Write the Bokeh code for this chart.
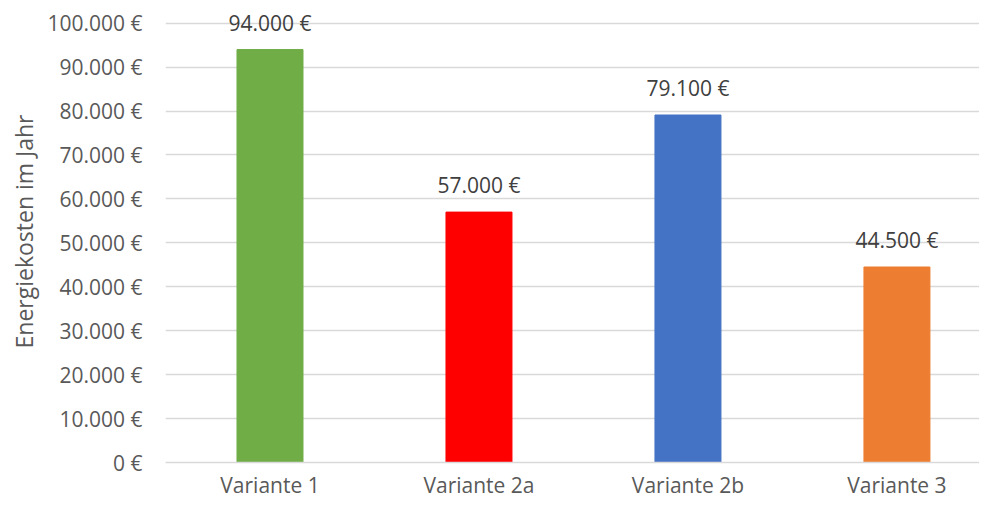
from bokeh.plotting import figure
from bokeh.models import Range1d, FixedTicker, ColumnDataSource
from bokeh.core.properties import value
from bokeh.embed import file_html
from bokeh.resources import INLINE

categories = ["Variante 1", "Variante 2a", "Variante 2b", "Variante 3"]
costs = [94000, 57000, 79100, 44500]
colors = ["#70AD47", "#FF0000", "#4472C4", "#ED7D31"]
y_ticks = list(range(0, 100001, 10000))
y_title = "Energiekosten im Jahr"


def euro(v):
    return f"{v:,.0f}".replace(",", ".") + " €"


xs = list(range(len(categories)))
src = ColumnDataSource(dict(x=xs, y=costs, color=colors,
                            label=[euro(v) for v in costs]))

FONT = "Open Sans"
p = figure(width=979, height=501, output_backend="svg", toolbar_location=None,
           x_range=Range1d(-0.5, 3.395), y_range=Range1d(0, 105167),
           min_border_left=165, min_border_right=0, min_border_top=0,
           min_border_bottom=10)
p.outline_line_color = None
p.background_fill_color = "white"
p.border_fill_color = "white"

p.vbar(x="x", top="y", width=66 / 209, color="color", source=src)
p.text(x="x", y="y", text="label", source=src, text_align="center",
       text_baseline="middle", y_offset=-27, text_font=value(FONT),
       text_font_size="21px", text_color="#404040")

p.xgrid.visible = False
p.ygrid.ticker = FixedTicker(ticks=y_ticks)
p.ygrid.grid_line_color = "#d9d9d9"
p.ygrid.grid_line_width = 1.5

p.yaxis.ticker = FixedTicker(ticks=y_ticks)
p.yaxis.major_label_overrides = {t: euro(t) for t in y_ticks}
p.yaxis.axis_line_color = None
p.yaxis.major_tick_line_color = None
p.yaxis.minor_tick_line_color = None
p.yaxis.major_tick_out = 0
p.yaxis.major_tick_in = 0
p.yaxis.major_label_standoff = 23
p.yaxis.major_label_text_font = FONT
p.yaxis.major_label_text_font_size = "21px"
p.yaxis.major_label_text_color = "#595959"
p.yaxis.axis_label = y_title
p.yaxis.axis_label_text_font = FONT
p.yaxis.axis_label_text_font_size = "23px"
p.yaxis.axis_label_text_font_style = "normal"
p.yaxis.axis_label_text_color = "#595959"
p.yaxis.axis_label_standoff = 4

p.xaxis.ticker = FixedTicker(ticks=xs)
p.xaxis.major_label_overrides = {i: c for i, c in zip(xs, categories)}
p.xaxis.axis_line_color = "#d9d9d9"
p.xaxis.axis_line_width = 1.5
p.xaxis.major_tick_line_color = None
p.xaxis.minor_tick_line_color = None
p.xaxis.major_tick_out = 0
p.xaxis.major_tick_in = 0
p.xaxis.major_label_standoff = 8
p.xaxis.major_label_text_font = FONT
p.xaxis.major_label_text_font_size = "21px"
p.xaxis.major_label_text_color = "#595959"

open("out.html", "w").write(file_html(p, INLINE))
